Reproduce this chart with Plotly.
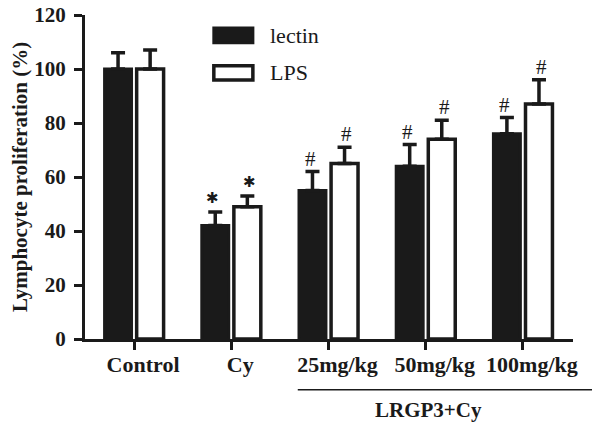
import plotly.graph_objects as go

categories = ["Control", "Cy", "25mg/kg", "50mg/kg", "100mg/kg"]
lectin = [100, 42, 55, 64, 76]
lectin_err = [6, 5, 7, 8, 6]
lps = [100, 49, 65, 74, 87]
lps_err = [7, 4, 6, 7, 9]
lectin_marks = ["", "*", "#", "#", "#"]
lps_marks = ["", "*", "#", "#", "#"]
yticks = [0, 20, 40, 60, 80, 100, 120]

FONT = "Liberation Serif"
INK = "#1a1a1a"
xpos = list(range(len(categories)))

fig = go.Figure()
fig.add_trace(go.Bar(
    x=xpos, y=lectin, name="lectin",
    marker=dict(color=INK, line=dict(color=INK, width=3)),
    error_y=dict(type="data", symmetric=False, array=lectin_err,
                 arrayminus=[0] * len(lectin), color=INK, thickness=3.5, width=7),
))
fig.add_trace(go.Bar(
    x=xpos, y=lps, name="LPS",
    marker=dict(color="white", line=dict(color=INK, width=3.5)),
    error_y=dict(type="data", symmetric=False, array=lps_err,
                 arrayminus=[0] * len(lps), color=INK, thickness=3.5, width=7),
))

# significance marks above error bars
for i in range(len(categories)):
    for vals, errs, marks, off in ((lectin, lectin_err, lectin_marks, -0.19),
                                   (lps, lps_err, lps_marks, 0.19)):
        m = marks[i]
        if m:
            if m == "*":
                txt = "\u2731"
                fnt = dict(family="DejaVu Sans", size=15, color=INK)
                ys = 3
            else:
                txt = "#"
                fnt = dict(family=FONT, size=21, color=INK)
                ys = -1
            fig.add_annotation(x=i + off, y=vals[i] + errs[i], text=txt, showarrow=False,
                               yanchor="bottom", yshift=ys, font=fnt)

# legend (custom)
fig.add_shape(type="rect", xref="paper", yref="paper", x0=0.264, x1=0.344, y0=0.914, y1=0.960,
              fillcolor=INK, line=dict(color=INK, width=3))
fig.add_shape(type="rect", xref="paper", yref="paper", x0=0.264, x1=0.344, y0=0.799, y1=0.843,
              fillcolor="white", line=dict(color=INK, width=3.5))
fig.add_annotation(xref="paper", yref="paper", x=0.376, y=0.937, text="lectin", showarrow=False,
                   xanchor="left", yanchor="middle", font=dict(family=FONT, size=22, color=INK))
fig.add_annotation(xref="paper", yref="paper", x=0.376, y=0.822, text="LPS", showarrow=False,
                   xanchor="left", yanchor="middle", font=dict(family=FONT, size=22, color=INK))

# y axis title
fig.add_annotation(xref="paper", yref="paper", x=-0.133, y=0.5, text="<b>Lymphocyte proliferation (%)</b>",
                   showarrow=False, textangle=-90, xanchor="center", yanchor="middle",
                   font=dict(family=FONT, size=21, color=INK))

# group bracket for LRGP3+Cy
fig.add_shape(type="line", xref="paper", yref="paper", x0=0.436, x1=1.045, y0=-0.157, y1=-0.157,
              line=dict(color=INK, width=1.5))
fig.add_annotation(xref="paper", yref="paper", x=0.703, y=-0.219, text="<b>LRGP3+Cy</b>",
                   showarrow=False, xanchor="center", yanchor="middle",
                   font=dict(family=FONT, size=21, color=INK))

# the page body adds an 8px offset on the top and left, margins compensate for it
fig.update_layout(
    width=600, height=429,
    margin=dict(l=77, r=35, t=7, b=98, autoexpand=False),
    paper_bgcolor="white", plot_bgcolor="white",
    barmode="group", bargap=0.34, bargroupgap=0.16,
    showlegend=False,
    font=dict(family=FONT, color=INK),
)
fig.update_xaxes(
    range=[-0.505, 4.515], tickvals=xpos, ticktext=["<b>%s</b>" % c for c in categories],
    tickfont=dict(family=FONT, size=22, color=INK), automargin=False,
    ticklabelstandoff=-4, ticklabelshift=9,
    showline=True, linecolor=INK, linewidth=3,
    ticks="outside", ticklen=8, tickwidth=3, tickcolor=INK,
    showgrid=False, zeroline=False,
)
fig.update_yaxes(
    range=[0, 120], tickvals=yticks, ticktext=["<b>%d</b>" % v for v in yticks],
    tickfont=dict(family=FONT, size=21, color=INK), automargin=False,
    ticklabeloverflow="allow", ticklabelstandoff=4,
    showline=True, linecolor=INK, linewidth=3,
    ticks="outside", ticklen=8, tickwidth=3, tickcolor=INK,
    showgrid=False, zeroline=False,
)

fig.write_html("out.html")
